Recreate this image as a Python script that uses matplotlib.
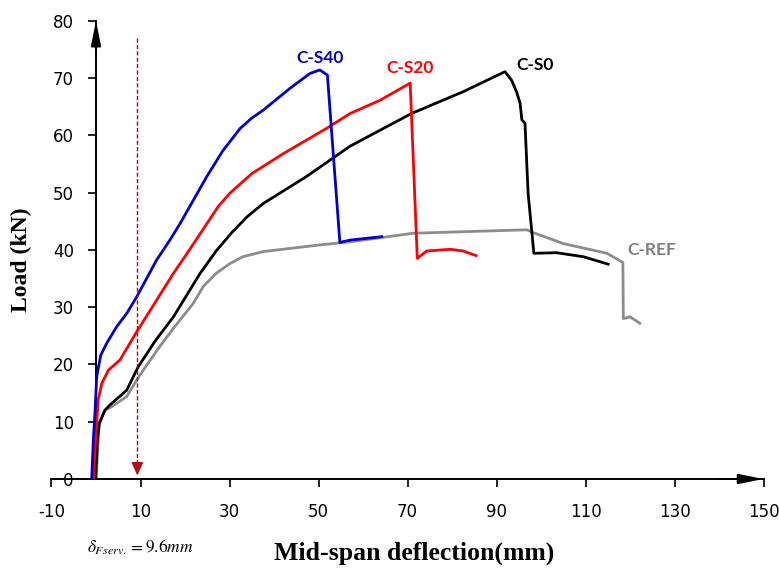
import matplotlib
matplotlib.use("Agg")
import matplotlib.pyplot as plt

# ---------------- data ----------------
s40_x = [-0.97, -0.6, -0.2, 0.16, 1.06, 2.4, 4.65, 6.9, 9.15, 13.6, 16.6, 18.9, 24.9,
         28.5, 32.4, 35.0, 37.6, 43.6, 48.1, 50.3, 52.0, 54.8, 57.1, 64.2]
s40_y = [0.0, 6.8, 12.0, 17.9, 21.6, 23.7, 26.6, 28.9, 31.8, 38.2, 41.7, 44.6, 52.8,
         57.3, 61.2, 63.0, 64.4, 68.2, 70.8, 71.4, 70.5, 41.3, 41.7, 42.3]

s20_x = [-0.6, 0.0, 0.5, 1.3, 2.8, 5.4, 9.15, 11.75, 17.4, 20.4, 23.4, 27.5, 30.1,
         35.0, 42.1, 51.8, 57.1, 63.8, 70.6, 72.2, 74.3, 79.6, 82.5, 85.4]
s20_y = [0.0, 8.0, 13.8, 16.7, 19.0, 20.8, 25.7, 28.9, 35.9, 39.3, 42.8, 47.6, 49.9,
         53.3, 56.8, 61.2, 63.8, 66.1, 69.1, 38.5, 39.8, 40.1, 39.8, 39.0]

s0_x = [-0.07, 0.3, 0.74, 2.0, 3.1, 6.9, 9.5, 13.3, 17.4, 20.0, 23.4, 27.0, 30.5,
        34.0, 37.6, 47.3, 57.1, 70.9, 82.5, 91.9, 93.4, 94.5, 95.3, 95.7, 96.4,
        97.1, 98.4, 103.5, 109.5, 115.1]
s0_y = [0.0, 6.8, 9.7, 12.0, 12.9, 15.5, 19.6, 24.1, 28.3, 31.6, 35.9, 39.8, 43.0,
        45.8, 48.1, 52.8, 58.1, 63.8, 67.6, 71.1, 69.6, 67.6, 65.6, 62.7, 62.1,
        49.9, 39.4, 39.5, 38.8, 37.5]

ref_x = [0.0, 0.74, 2.0, 3.5, 6.9, 9.9, 14.4, 17.4, 21.9, 24.1, 27.0, 30.1, 33.0,
         37.6, 49.6, 57.1, 71.3, 96.8, 98.3, 105.0, 114.8, 118.4, 118.5, 120.0, 122.2]
ref_y = [0.0, 9.7, 12.0, 12.6, 14.4, 18.2, 23.2, 26.3, 30.7, 33.6, 35.9, 37.6, 38.8,
         39.7, 40.8, 41.4, 42.9, 43.5, 43.0, 41.1, 39.4, 37.8, 28.0, 28.3, 27.2]

series_names = ["C-S40", "C-S20", "C-S0", "C-REF"]
label_x = [50.3, 70.6, 98.7, 124.9]
label_y = [73.5, 71.7, 72.3, 40.0]

serv_x = 9.3           # service deflection marker
serv_top = 77.0

x_ticks = [-10, 10, 30, 50, 70, 90, 110, 130, 150]
y_ticks = [0, 10, 20, 30, 40, 50, 60, 70, 80]

# ---------------- figure ----------------
plt.rcParams["mathtext.fontset"] = "stix"
fig = plt.figure(figsize=(7.79, 5.85), dpi=100)
ax = fig.add_axes([51.5 / 779, 106 / 585, 712 / 779, 458.3 / 585])

for s in ["top", "right"]:
    ax.spines[s].set_visible(False)
ax.spines["left"].set_position(("data", 0))
ax.spines["left"].set_linewidth(1.4)
ax.spines["bottom"].set_linewidth(1.4)

colors = ["#0000c8", "#ff0000", "#000000", "#8c8c8c"]
lw = 2.0
ax.plot(ref_x, ref_y, color=colors[3], lw=lw, zorder=2, solid_joinstyle="round")
ax.plot(s0_x, s0_y, color=colors[2], lw=lw, zorder=3, solid_joinstyle="round")
ax.plot(s20_x, s20_y, color=colors[1], lw=lw, zorder=4, solid_joinstyle="round")
ax.plot(s40_x, s40_y, color=colors[0], lw=lw, zorder=5, solid_joinstyle="round")

label_colors = ["#0000c8", "#ff0000", "#000000", "#808080"]
for name, lx, ly, c in zip(series_names, label_x, label_y, label_colors):
    ax.text(lx, ly, name, color=c, fontsize=12.5, fontweight="bold",
            family=["Lato", "DejaVu Sans"], ha="center", va="center", zorder=6)

ax.set_xlim(-10, 150)
ax.set_ylim(0, 80)
ax.set_xticks(x_ticks)
ax.set_yticks(y_ticks)
ax.set_xticklabels([str(v) for v in x_ticks], fontsize=12, family="DejaVu Sans")
ax.set_yticklabels([str(v) for v in y_ticks], fontsize=12, family="DejaVu Sans")
ax.tick_params(axis="x", direction="out", length=6, width=1.2, pad=11)
ax.tick_params(axis="y", direction="out", length=6, width=1.2, pad=10)

# axis arrowheads
ax.annotate("", xy=(0, 80), xytext=(0, 74),
            arrowprops=dict(arrowstyle="-|>,head_length=1.5,head_width=0.3",
                            color="black", lw=1.4, mutation_scale=10,
                            shrinkA=0, shrinkB=0), annotation_clip=False)
ax.annotate("", xy=(150, 0), xytext=(140, 0),
            arrowprops=dict(arrowstyle="-|>,head_length=1.5,head_width=0.3",
                            color="black", lw=1.4, mutation_scale=10,
                            shrinkA=0, shrinkB=0), annotation_clip=False)

# service deflection dashed arrow
ax.plot([serv_x, serv_x], [serv_top, 2.5], color="#c00000", lw=1.0,
        dashes=(3, 1.6), zorder=7)
ax.annotate("", xy=(serv_x, 0.6), xytext=(serv_x, 3.0),
            arrowprops=dict(arrowstyle="-|>,head_length=0.8,head_width=0.36",
                            color="#b01010", lw=1.0, mutation_scale=10,
                            shrinkA=0, shrinkB=0), zorder=7)

ax.text(-2.0, -12.0, r"$\delta_{Fserv.}=9.6mm$", fontsize=12.5, ha="left",
        va="center", clip_on=False)

ax.set_xlabel("Mid-span deflection(mm)", fontsize=18.5, fontweight="bold",
              family="Liberation Serif")
ax.xaxis.set_label_coords((414 - 51.5) / 712, -(542 - 479) / 458.3)
ax.set_ylabel("Load (kN)", fontsize=17, fontweight="bold",
              family="Liberation Serif")
ax.yaxis.set_label_coords((32 - 51.5) / 712, (479 - 260) / 458.3)

fig.savefig("out.png", dpi=100)
